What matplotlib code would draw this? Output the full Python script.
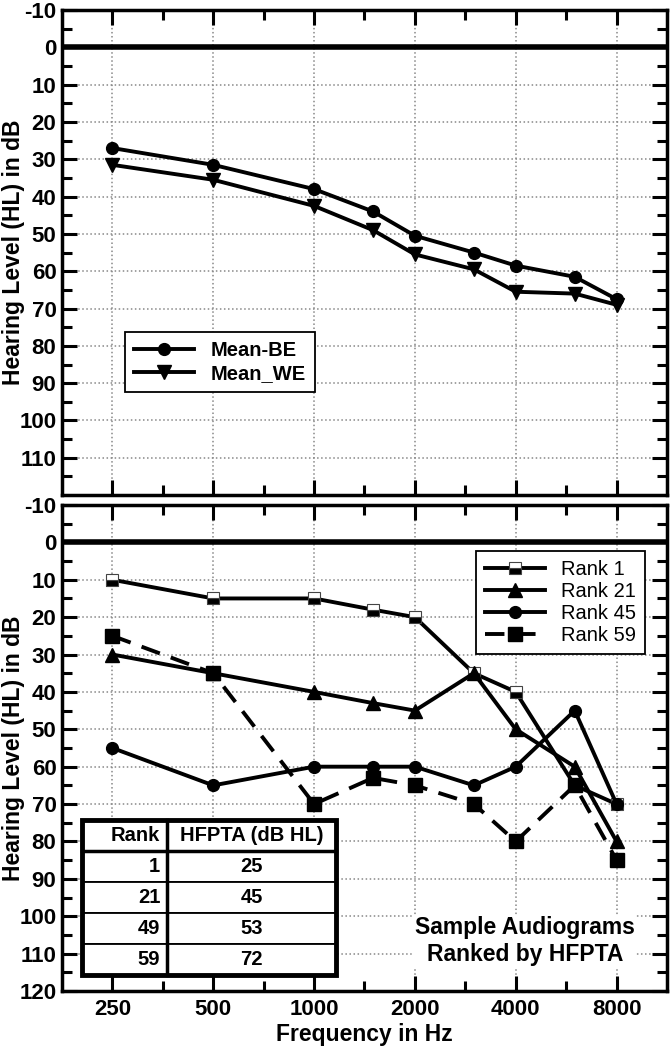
import matplotlib
matplotlib.use("Agg")
import matplotlib.pyplot as plt
from matplotlib.ticker import FixedLocator, FixedFormatter, NullFormatter
from matplotlib.patches import Rectangle

plt.rcParams['font.family'] = ['Liberation Sans', 'DejaVu Sans']
plt.rcParams['font.weight'] = 'bold'
plt.rcParams['axes.labelweight'] = 'bold'
plt.rcParams['axes.unicode_minus'] = False

# data (dB HL)
freqs = [250, 500, 1000, 1500, 2000, 3000, 4000, 6000, 8000]
mean_be = [27, 31.5, 38, 44, 50.5, 55, 58.5, 61.5, 67.5]
mean_we = [31.5, 35.5, 42.5, 49, 55.5, 59.5, 65.5, 66, 69]

rank1 = [10, 15, 15, 18, 20, 35, 40, 65, 70]
rank21 = [30, 35, 40, 43, 45, 35, 50, 60, 80]
rank45 = [55, 65, 60, 60, 60, 65, 60, 45, 70]
rank59 = [25, 35, 70, 63, 65, 70, 80, 65, 85]

table_ranks = ['1', '21', '49', '59']
table_hfpta = ['25', '45', '53', '72']

xticks = [250, 500, 1000, 2000, 4000, 8000]
xminor = [f * 2 ** 0.5 for f in xticks[:-1]]

LW = 2.8


def setup(ax, ymax_label, xlabels):
    ax.set_xscale('log', base=2)
    ax.set_xlim(xticks[0] / 2 ** 0.5, xticks[-1] * 2 ** 0.5)
    ax.set_ylim(120, -10)
    ax.xaxis.set_major_locator(FixedLocator(xticks))
    ax.xaxis.set_minor_locator(FixedLocator(xminor))
    ax.xaxis.set_major_formatter(FixedFormatter([str(f) for f in xticks] if xlabels else [''] * len(xticks)))
    ax.xaxis.set_minor_formatter(NullFormatter())
    ax.yaxis.set_major_locator(FixedLocator(list(range(-10, ymax_label + 1, 10))))
    ax.yaxis.set_minor_locator(FixedLocator(list(range(-5, 120, 10))))
    ax.tick_params(which='both', direction='in', top=True, right=True, width=2.2, labelsize=16)
    ax.tick_params(which='major', length=11)
    ax.tick_params(which='minor', length=7)
    ax.tick_params(axis='x', which='major', pad=6)
    ax.tick_params(axis='y', which='major', pad=4)
    ax.grid(True, which='major', color='#888888', ls=':', lw=1.1)
    for s in ax.spines.values():
        s.set_linewidth(2.5)
    ax.axhline(0, color='k', lw=4)
    ax.set_ylabel('Hearing Level (HL) in dB', fontsize=16.5)
    ax.yaxis.set_label_coords(-0.061, 0.5)


fig = plt.figure(figsize=(6.7, 10.49), dpi=100)
ax1 = fig.add_axes([0.0925, 0.528, 0.903, 0.4625])
ax2 = fig.add_axes([0.0925, 0.0553, 0.903, 0.4633])

setup(ax1, 110, False)
setup(ax2, 120, True)

# top panel: means
ax1.plot(freqs, mean_be, color='k', lw=LW, marker='o', ms=8.5, label='Mean-BE')
ax1.plot(freqs, mean_we, color='k', lw=LW, marker='v', ms=9.5, label='Mean_WE')
leg1 = ax1.legend(loc='upper left', bbox_to_anchor=(0.104, 0.336), fancybox=False,
                  edgecolor='k', framealpha=1, borderaxespad=0, handlelength=3.0,
                  labelspacing=0.2, borderpad=0.45, prop=dict(weight='bold', size=14.5))
leg1.get_frame().set_linewidth(1.3)

# bottom panel: sample audiograms
ax2.plot(freqs, rank1, color='k', lw=LW, marker='s', ms=8, fillstyle='bottom',
         markerfacecolor='k', markerfacecoloralt='white', markeredgecolor='#444444',
         mew=0.8, label='Rank 1')
ax2.plot(freqs, rank21, color='k', lw=LW, marker='^', ms=9.5, label='Rank 21')
ax2.plot(freqs, rank45, color='k', lw=LW, marker='o', ms=8.5, label='Rank 45')
ax2.plot(freqs, rank59, color='k', lw=LW, marker='s', ms=9.5, dashes=(5, 3), label='Rank 59')
leg2 = ax2.legend(loc='upper right', bbox_to_anchor=(0.964, 0.905), fancybox=False,
                  edgecolor='k', framealpha=1, borderaxespad=0, handlelength=3.0,
                  labelspacing=0.15, borderpad=0.45, prop=dict(weight='normal', size=14.5))
leg2.get_frame().set_linewidth(1.3)
ax2.set_xlabel('Frequency in Hz', fontsize=16.5, labelpad=2)

# HFPTA table
tbl = ax2.table(cellText=[[r, h] for r, h in zip(table_ranks, table_hfpta)],
                colLabels=['Rank', 'HFPTA (dB HL)'], colWidths=[0.335, 0.665],
                cellLoc='center', bbox=[0.033, 0.033, 0.42, 0.319])
tbl.auto_set_font_size(False)
tbl.set_fontsize(14.5)
tbl.set_zorder(10)
for (r, c), cell in tbl.get_celld().items():
    cell.set_linewidth(1.3)
    cell.set_facecolor('white')
    cell.get_text().set_fontweight('bold')
    if c == 0:
        cell.get_text().set_ha('right')
        cell.PAD = 0.08
ax2.add_patch(Rectangle((0.033, 0.033), 0.42, 0.319, transform=ax2.transAxes,
                        fill=False, lw=3.5, ec='k', zorder=11))
ax2.plot([0.1737, 0.1737], [0.033, 0.352], transform=ax2.transAxes, color='k', lw=2.5, zorder=11)
ax2.plot([0.033, 0.453], [0.2882, 0.2882], transform=ax2.transAxes, color='k', lw=2.5, zorder=11)

ax2.text(0.765, 0.103, 'Sample Audiograms\nRanked by HFPTA', transform=ax2.transAxes,
         ha='center', va='center', fontsize=16.5, linespacing=1.2, zorder=9,
         bbox=dict(facecolor='white', edgecolor='none', pad=1))

plt.savefig('out.png', dpi=100)
